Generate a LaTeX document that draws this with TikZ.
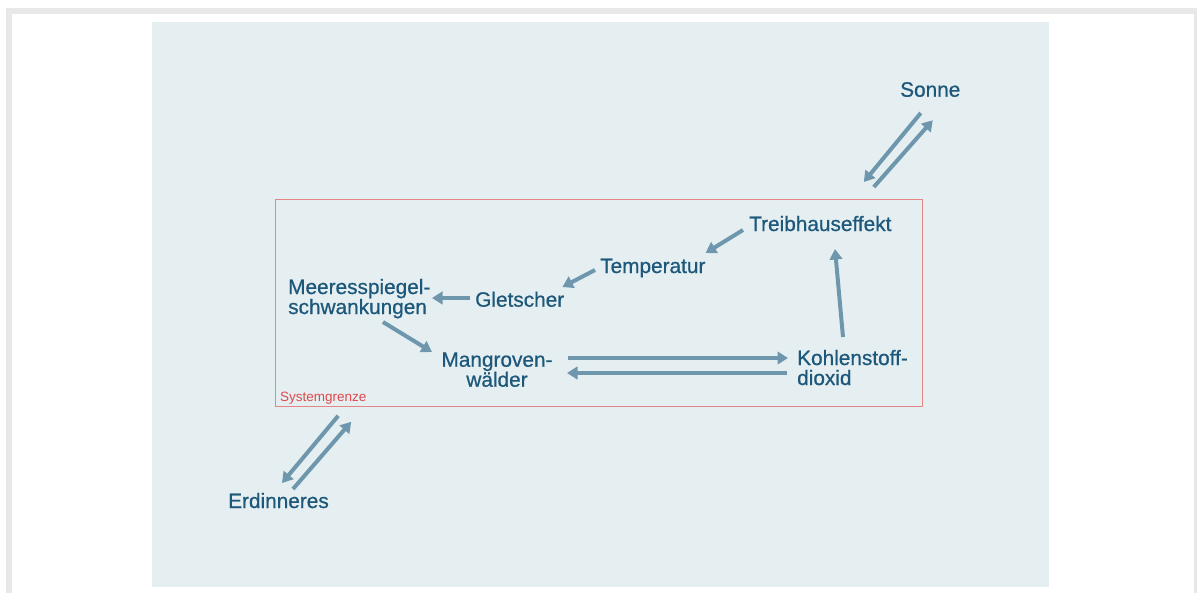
\documentclass[tikz,border=0pt]{standalone}
\usepackage{fontspec}
\setmainfont{Liberation Sans}
\newfontfamily\begrifffont{Liberation Sans}[FakeBold=0.7]
\usetikzlibrary{arrows.meta}
\definecolor{hintergrund}{HTML}{E5EEF1}
\definecolor{rahmen}{HTML}{E8E8E8}
\definecolor{schrift}{HTML}{1D587A}
\definecolor{pfeilfarbe}{HTML}{6E97AD}
\definecolor{grenzrot}{HTML}{E58585}
\definecolor{grenztext}{HTML}{E0484C}

\begin{document}
\begin{tikzpicture}[x=1pt, y=-1pt,
    begriff/.style={font=\begrifffont\fontsize{20.8}{20}\selectfont, text=schrift, inner sep=0pt, anchor=base west},
    pfeil/.style={-{Triangle[length=10.5pt,width=12.5pt]}, line width=4pt, draw=pfeilfarbe}]
  \useasboundingbox (0,0) rectangle (1197,592);
  \draw[rahmen, line width=6pt] (9,11) rectangle (1197,620);
  \fill[hintergrund] (152,22) rectangle (1049,587);

  % Systemgrenze
  \node[draw=grenzrot, line width=0.8pt, minimum width=647.5pt, minimum height=207pt,
    inner sep=0pt, anchor=north west] (grenze) at (274.5,199) {};
  \node[font=\fontsize{13.5}{14}\selectfont, text=grenztext, inner sep=0pt, anchor=base west]
    (sysname) at (280,401) {Systemgrenze};

  \node[begriff] (sonne) at (900,96.7) {Sonne};
  \node[begriff] (treib) at (749,231) {Treibhauseffekt};
  \node[begriff] (temp) at (600,273) {Temperatur};
  \node[begriff] (glet) at (475,306.7) {Gletscher};
  \node[begriff, text width=160pt, align=left] (meer) at (288,294) {Meeresspiegel-\\schwankungen};
  \node[begriff, anchor=base, text width=130pt, align=center] (mang) at (497,366.7) {Mangroven-\\wälder};
  \node[begriff, text width=120pt, align=left] (kohle) at (797,365) {Kohlenstoff-\\dioxid};
  \node[begriff] (erd) at (228,508) {Erdinneres};

  % Austausch ueber die Grenze
  \draw[pfeil] ([shift={(-9.5,16.3)}]sonne.base) -- ([shift={(-59,-17)}]grenze.north east);
  \draw[pfeil] ([shift={(-49,-12)}]grenze.north east) -- ([shift={(2.5,23.5)}]sonne.base);
  \draw[pfeil] ([shift={(63.7,9)}]grenze.south west) -- ([shift={(3.5,-25)}]erd.base);
  \draw[pfeil] ([shift={(14.5,-19)}]erd.base) -- ([shift={(76.7,15)}]grenze.south west);

  \draw[pfeil] ([shift={(-6,-1)}]treib.base west) -- ([shift={(0,-20)}]temp.base east);
  \draw[pfeil] ([shift={(-5,-3)}]temp.base west) -- ([shift={(-2,-19.7)}]glet.base east);
  \draw[pfeil] ([shift={(-5,-8.7)}]glet.base west) -- ([shift={(144,4)}]meer.base west);
  \draw[pfeil] ([shift={(95,28)}]meer.base west) -- ([shift={(-65,-14.7)}]mang.base);
  \draw[pfeil] ([shift={(71,-8.7)}]mang.base) -- ([shift={(-9,-7)}]kohle.base west);
  \draw[pfeil] ([shift={(-10,8)}]kohle.base west) -- ([shift={(70,6.3)}]mang.base);
  \draw[pfeil] ([shift={(46,-28)}]kohle.base west) -- ([shift={(86,18)}]treib.base west);
\end{tikzpicture}
\end{document}
